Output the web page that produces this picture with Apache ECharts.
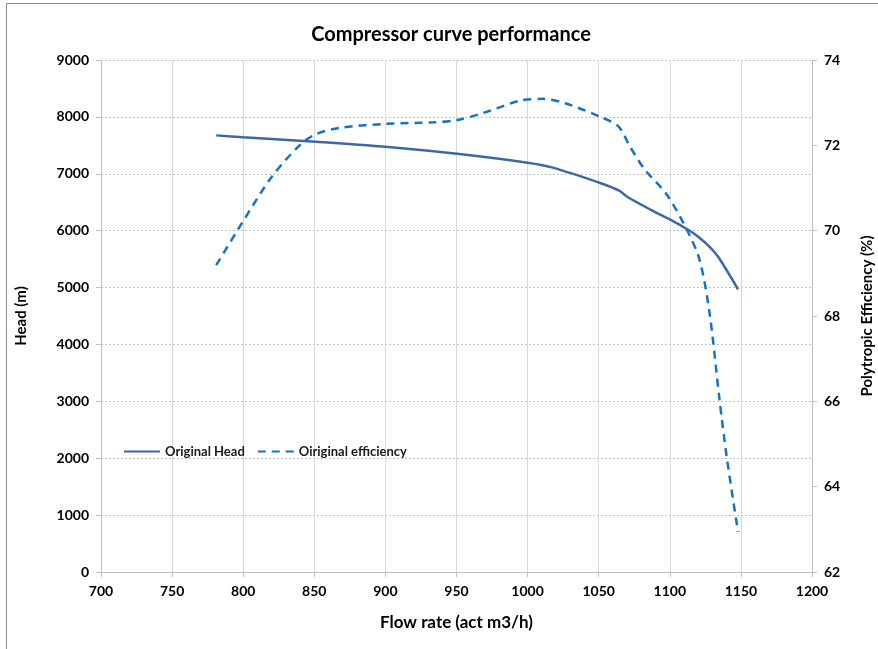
<!DOCTYPE html>
<html><head><meta charset="utf-8">
<script src="https://cdn.jsdelivr.net/npm/echarts@6/dist/echarts.min.js"></script>
<style>html,body{margin:0;padding:0;background:#fff}#c{width:878px;height:649px}</style>
</head><body><div id="c"></div>
<script>
const titleText = 'Compressor curve performance';
const xName = 'Flow rate (act m3/h)';
const yLeftName = 'Head (m)';
const yRightName = 'Polytropic Efficiency (%)';
const headName = 'Original Head';
const effName = 'Oiriginal efficiency';

const headFlow = [781, 800, 851, 902, 952, 1000, 1017, 1052, 1065, 1070, 1087, 1101, 1114, 1120, 1128, 1134, 1148];
const headValues = [7675, 7640, 7563, 7470, 7346, 7194, 7112, 6830, 6696, 6596, 6362, 6186, 5999, 5893, 5717, 5541, 4968];

const effFlow = [781, 799, 820, 840, 851, 868, 899, 934, 950, 969, 995, 1011, 1027, 1051, 1064, 1072, 1082, 1098, 1112, 1121, 1128, 1135, 1140, 1148];
const effValues = [69.19, 70.17, 71.26, 72.01, 72.26, 72.41, 72.50, 72.54, 72.59, 72.76, 73.05, 73.09, 72.98, 72.67, 72.44, 71.97, 71.45, 70.84, 70.02, 69.31, 68.06, 66.03, 64.70, 62.94];

const FONT = 'Lato';
const chart = echarts.init(document.getElementById('c'), null, {renderer: 'canvas'});
const lbl = {color: '#000', fontWeight: 'bold', fontSize: 14, fontFamily: FONT, formatter: v => String(v)};
const nameStyle = {fontSize: 15, fontWeight: 'bold', color: '#000', fontFamily: FONT};
chart.setOption({
  animation: false,
  backgroundColor: '#fff',
  textStyle: {fontFamily: FONT},
  title: {
    text: titleText, left: 446, top: 20, textAlign: 'center',
    textStyle: {fontSize: 20, fontWeight: 'bold', color: '#000', fontFamily: FONT}
  },
  legend: {
    left: 118, top: 440, itemWidth: 36, itemHeight: 10, itemGap: 12,
    itemStyle: {opacity: 0},
    textStyle: {fontSize: 13, fontWeight: 'bold', color: '#1a1a1a', fontFamily: FONT},
    data: [headName, effName]
  },
  grid: {left: 101, right: 66, top: 60, bottom: 77, containLabel: false, outerBoundsMode: 'none'},
  xAxis: {
    type: 'value', min: 700, max: 1200, interval: 50,
    name: xName, nameLocation: 'middle', nameGap: 42,
    nameTextStyle: Object.assign({}, nameStyle, {fontSize: 17}),
    axisLine: {show: true, lineStyle: {color: '#bfbfbf'}},
    axisTick: {show: true, length: 5, lineStyle: {color: '#bfbfbf'}},
    axisLabel: Object.assign({margin: 12}, lbl),
    splitLine: {show: true, lineStyle: {color: '#d9d9d9', type: 'solid'}}
  },
  yAxis: [{
    type: 'value', min: 0, max: 9000, interval: 1000, position: 'left',
    name: yLeftName, nameLocation: 'middle', nameGap: 72,
    nameTextStyle: nameStyle,
    axisLine: {show: true, lineStyle: {color: '#bfbfbf'}},
    axisTick: {show: true, length: 5, lineStyle: {color: '#bfbfbf'}},
    axisLabel: Object.assign({margin: 12}, lbl),
    splitLine: {show: true, lineStyle: {color: '#bfbfbf', type: [2, 2]}}
  }, {
    type: 'value', min: 62, max: 74, interval: 2, position: 'right',
    name: yRightName, nameLocation: 'middle', nameGap: 48, nameRotate: 90,
    nameTextStyle: nameStyle,
    axisLine: {show: true, lineStyle: {color: '#bfbfbf'}},
    axisTick: {show: true, length: 5, lineStyle: {color: '#bfbfbf'}},
    axisLabel: Object.assign({margin: 12}, lbl),
    splitLine: {show: false}
  }],
  graphic: [
    {type: 'line', shape: {x1: 6.5, y1: 3.5, x2: 878, y2: 3.5}, style: {stroke: '#8c8c8c', lineWidth: 1}},
    {type: 'line', shape: {x1: 6.5, y1: 3.5, x2: 6.5, y2: 649}, style: {stroke: '#8c8c8c', lineWidth: 1}}
  ],
  series: [{
    name: headName, type: 'line', yAxisIndex: 0, smooth: 0.3, showSymbol: false, symbol: 'none',
    lineStyle: {color: '#3e68a5', width: 2.5}, itemStyle: {color: '#3e68a5'},
    data: headFlow.map((f, i) => [f, headValues[i]])
  }, {
    name: effName, type: 'line', yAxisIndex: 1, smooth: 0.3, showSymbol: false, symbol: 'none',
    lineStyle: {color: '#1572c4', width: 2.5, type: [8, 6]}, itemStyle: {color: '#1572c4'},
    data: effFlow.map((f, i) => [f, effValues[i]])
  }]
});
</script></body></html>
